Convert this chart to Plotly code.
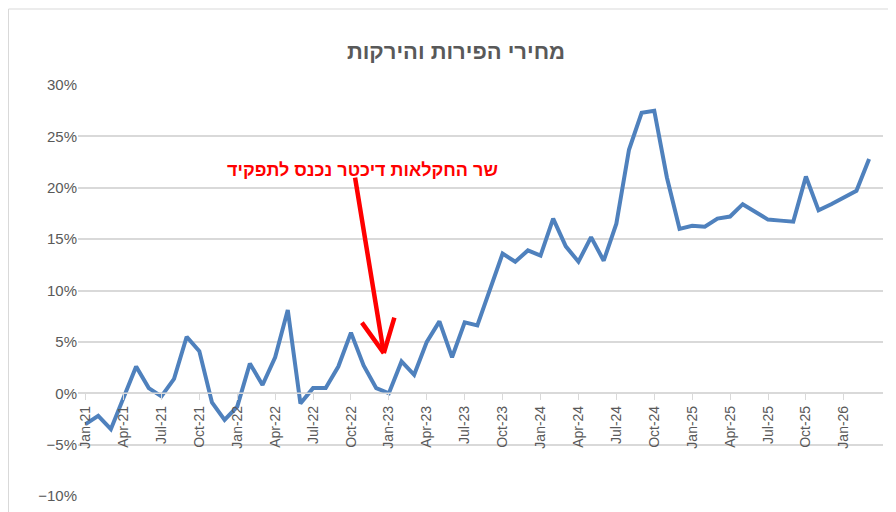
import plotly.graph_objects as go
import pandas as pd

months = pd.date_range("2021-01-01", periods=63, freq="MS").strftime("%b-%y").tolist()
values = [-3.0, -2.2, -3.5, -0.5, 2.6, 0.5, -0.3, 1.4, 5.5, 4.1, -0.9, -2.6,
          -1.3, 2.9, 0.8, 3.5, 8.1, -1.0, 0.5, 0.5, 2.6, 5.9, 2.7, 0.5,
          0.0, 3.1, 1.8, 5.0, 7.0, 3.5, 6.9, 6.6, 10.0, 13.6, 12.8, 13.9,
          13.4, 17.0, 14.3, 12.8, 15.2, 12.9, 16.5, 23.7, 27.3, 27.5, 21.0, 16.0,
          16.3, 16.2, 17.0, 17.2, 18.4, 17.7, 16.9, 16.8, 16.7, 21.1, 17.8, 18.4,
          19.0, 19.7, 22.8]
tick_labels = months[::3]
title = "מחירי הפירות והירקות"
note = "שר החקלאות דיכטר נכנס לתפקיד"

fig = go.Figure()
fig.add_trace(go.Scatter(x=list(range(len(months))), y=values, mode="lines",
                         line=dict(color="#4f81bd", width=4)))

fig.update_layout(
    width=896, height=512, paper_bgcolor="white", plot_bgcolor="white",
    margin=dict(l=70, r=21, t=77, b=24, autoexpand=False), showlegend=False,
    font=dict(family="Liberation Sans, Arial", color="#595959", size=14),
    title=dict(text="<b>" + title + "</b>", x=0.5, xanchor="center", y=0.93,
               font=dict(size=22, color="#595959")),
    xaxis=dict(range=[-0.6, 63.1], tickvals=list(range(0, 63, 3)), ticktext=tick_labels,
               tickangle=-90, showgrid=False, zeroline=False, anchor="free", position=0.25,
               showline=False, ticks="outside", ticklen=6, tickcolor="#d9d9d9",
               automargin=False, tickfont=dict(size=14, color="#595959")),
    yaxis=dict(range=[-10, 30], dtick=5, ticksuffix="%", showgrid=True, gridcolor="#d9d9d9",
               gridwidth=1.5, zeroline=False, automargin=False,
               tickfont=dict(size=15, color="#595959")),
)
fig.add_hline(y=0, line=dict(color="#d9d9d9", width=1.5))
# arrow: shaft plus two chevron arms from the tip
tip_x, tip_y = 23.6, 3.9
for ax, ay in [(-29, -177), (-23, -32), (11, -37)]:
    fig.add_annotation(x=tip_x, y=tip_y, ax=ax, ay=ay, xref="x", yref="y", text="",
                       showarrow=True, arrowhead=0, arrowwidth=4.5, arrowcolor="red")
fig.add_annotation(x=(354 - 70) / 805, y=(488 - 150) / 411, xref="paper", yref="paper",
                   text="<b>" + note + "</b>", showarrow=False,
                   font=dict(size=18, color="red"))
fig.add_shape(type="rect", xref="paper", yref="paper", x0=-69.5 / 805, x1=1 + 20 / 805,
              y0=-23 / 411, y1=1 + 76 / 411, line=dict(color="#d9d9d9", width=1))
fig.write_html("out.html")
